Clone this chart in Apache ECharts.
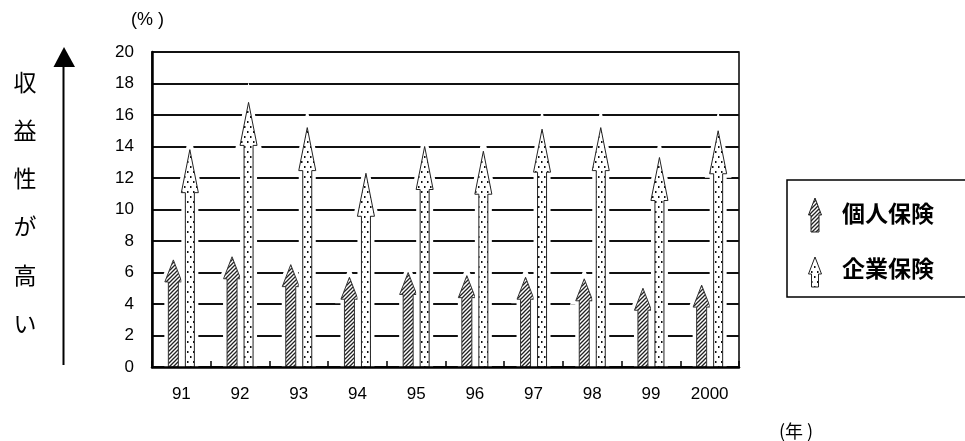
<!DOCTYPE html>
<html>
<head>
<meta charset="utf-8">
<script src="https://cdn.jsdelivr.net/npm/echarts@6/dist/echarts.min.js"></script>
<style>
html,body{margin:0;padding:0;background:#fff;}
#chart{width:965px;height:441px;}
</style>
</head>
<body>
<div id="chart"></div>
<script>
const categories = ['91','92','93','94','95','96','97','98','99','2000'];
const individual = [6.8, 7.0, 6.5, 5.7, 6.0, 5.8, 5.7, 5.6, 5.0, 5.2];
const corporate = [13.8, 16.8, 15.2, 12.3, 14.0, 13.7, 15.1, 15.2, 13.3, 15.0];
const yTicks = [0,2,4,6,8,10,12,14,16,18,20];
const seriesNames = ['個人保険','企業保険'];
const sideLabel = '収益性が高い';

function makeHatch(){
  const c = document.createElement('canvas');
  c.width = 4; c.height = 4;
  const g = c.getContext('2d');
  g.fillStyle = '#fff'; g.fillRect(0,0,4,4);
  g.strokeStyle = '#222'; g.lineWidth = 1.3;
  g.beginPath();
  g.moveTo(-1,5); g.lineTo(5,-1);
  g.moveTo(-1,1); g.lineTo(1,-1);
  g.moveTo(3,5); g.lineTo(5,3);
  g.stroke();
  return c;
}
function makeDots(){
  const c = document.createElement('canvas');
  c.width = 6; c.height = 10;
  const g = c.getContext('2d');
  g.fillStyle = '#fff'; g.fillRect(0,0,6,10);
  g.fillStyle = '#111';
  g.fillRect(1,1,1.5,2);
  g.fillRect(4,6,1.5,2);
  return c;
}
const hatch = {image: makeHatch(), repeat: 'repeat'};
const dots = {image: makeDots(), repeat: 'repeat'};

function arrowPoints(x, tip, base, sw, hw, hh){
  return [[x-sw, base],[x-sw, tip+hh],[x-hw, tip+hh],[x, tip],[x+hw, tip+hh],[x+sw, tip+hh],[x+sw, base]];
}

function makeRender(offset, sw, hw, hh, fill, stroke){
  return function(params, api){
    const idx = api.value(0);
    const b = api.coord([idx, 0]);
    const t = api.coord([idx, api.value(1)]);
    const x = b[0] + offset;
    const pts = arrowPoints(x, t[1], b[1], sw, hw, hh);
    return {
      type: 'group',
      children: [
        {type:'polygon', shape:{points: pts}, style:{fill:'#fff', stroke:'#fff', lineWidth:8, lineJoin:'miter'}},
        {type:'polygon', shape:{points: pts}, style:{fill: fill, stroke: stroke, lineWidth:1}}
      ]
    };
  };
}

const numFont = 'Liberation Sans, Arial, sans-serif';
const jpFont = 'Noto Sans CJK JP, sans-serif';
const chart = echarts.init(document.getElementById('chart'), null, {renderer:'canvas'});
const option = {
  backgroundColor: '#fff',
  animation: false,
  grid: {left:152, right:226, top:52, bottom:74, show:true, borderColor:'#000', borderWidth:1.5, backgroundColor:'transparent'},
  xAxis: {
    type: 'category',
    data: categories,
    z: 10,
    axisLine: {show:true, lineStyle:{color:'#000', width:2.5}},
    axisTick: {show:true, inside:true, length:6, lineStyle:{color:'#000', width:1.5}},
    axisLabel: {color:'#000', fontSize:17, margin:19, fontFamily:numFont},
    splitLine: {show:false}
  },
  yAxis: {
    type: 'value',
    min: yTicks[0], max: yTicks[yTicks.length-1], interval: 2,
    axisLine: {show:true, lineStyle:{color:'#000', width:2.5}},
    axisTick: {show:false},
    axisLabel: {color:'#000', fontSize:17, margin:18, fontFamily:numFont},
    splitLine: {show:true, lineStyle:{color:'#111', width:2}}
  },
  series: [
    {
      name: seriesNames[0], type: 'custom',
      renderItem: makeRender(-8, 5, 8.5, 22, hatch, '#333'),
      data: individual.map((v,i)=>[i,v]),
      encode: {x:0, y:1}, z: 3
    },
    {
      name: seriesNames[1], type: 'custom',
      renderItem: makeRender(8.5, 4.5, 8.5, 43, dots, '#222'),
      data: corporate.map((v,i)=>[i,v]),
      encode: {x:0, y:1}, z: 3
    }
  ],
  graphic: [
    {type:'text', left:131, top:11, style:{text:'(% )', fontSize:18, fill:'#000', fontFamily:numFont}},
    {type:'text', left:779, top:422, style:{text:'(年 )', fontSize:18, fill:'#000', fontFamily:jpFont}},
    {type:'text', x:25, y:58, style:{text: sideLabel.split('').join('\n'), fontSize:23, lineHeight:48.2, fill:'#000', align:'center', verticalAlign:'top', fontFamily:jpFont}},
    {type:'line', shape:{x1:63.5, y1:365, x2:63.5, y2:64}, style:{stroke:'#000', lineWidth:2}},
    {type:'polygon', shape:{points:[[53.5,67],[64,47],[75,67]]}, style:{fill:'#000'}},
    {type:'rect', shape:{x:787, y:180, width:200, height:117}, style:{fill:'#fff', stroke:'#000', lineWidth:1.5}},
    {type:'polygon', shape:{points: arrowPoints(815, 198, 232, 4, 6.5, 17)}, style:{fill: hatch, stroke:'#222', lineWidth:1}},
    {type:'polygon', shape:{points: arrowPoints(815, 257, 287, 3.5, 6.5, 17)}, style:{fill: dots, stroke:'#222', lineWidth:1}},
    {type:'text', left:842, top:202, style:{text: seriesNames[0], fontSize:23, fontWeight:'bold', fill:'#000', fontFamily:jpFont}},
    {type:'text', left:842, top:257, style:{text: seriesNames[1], fontSize:23, fontWeight:'bold', fill:'#000', fontFamily:jpFont}}
  ]
};
chart.setOption(option);
</script>
</body>
</html>
